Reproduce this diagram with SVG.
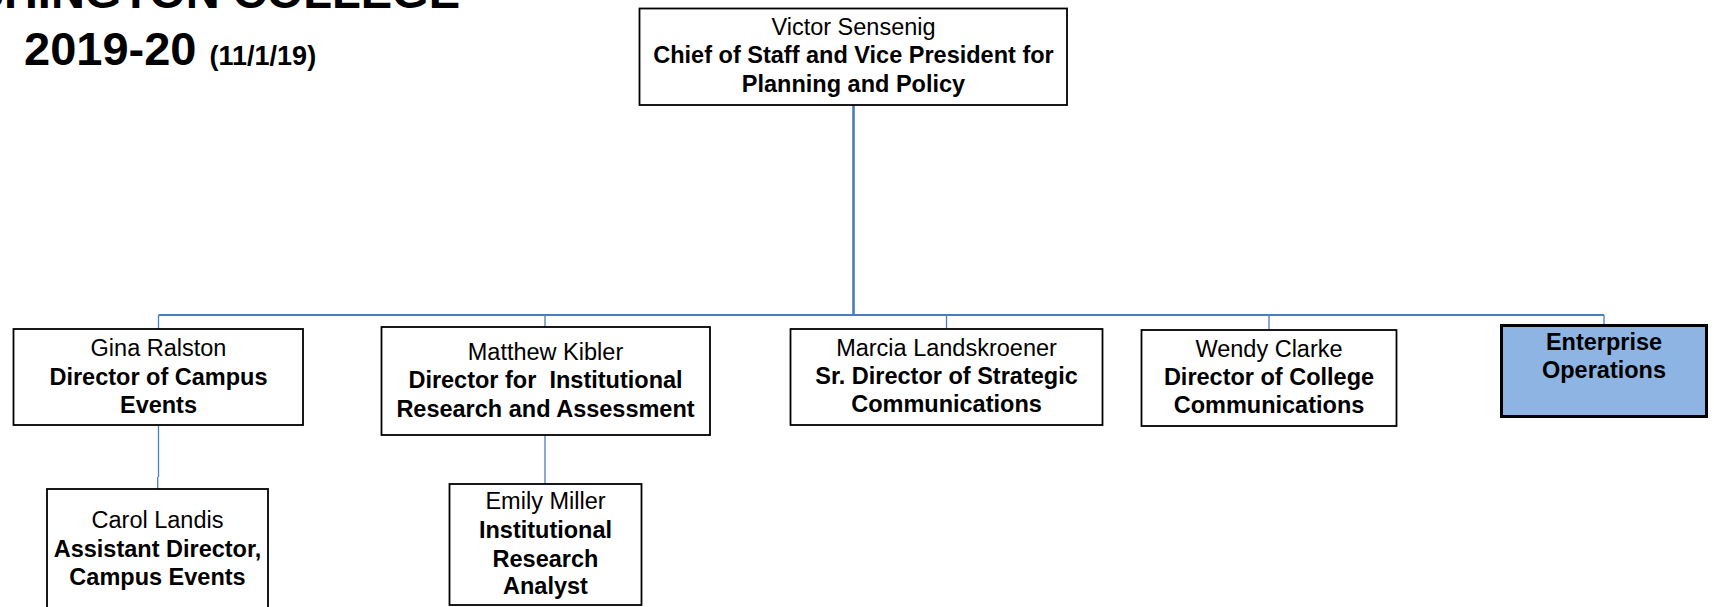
<svg xmlns="http://www.w3.org/2000/svg" width="1714" height="607" viewBox="0 0 1714 607">
<style>
.box{fill:#fff;stroke:#000;stroke-width:1.8}
.ent{fill:#8EB4E3;stroke:#000;stroke-width:3}
text{font-family:"Liberation Sans",Arial,sans-serif;fill:#000}
.t{font-size:23.5px;text-anchor:middle}
.b{font-weight:bold}
.title{font-weight:bold;font-size:47px}
.con{fill:none;stroke:#4A7EBB;stroke-width:1.3}
.main{stroke-width:2.6}
.bus{stroke-width:2}
</style>
<rect width="1714" height="607" fill="#fff"/>
<g id="title">
<text class="title" x="460" y="7.5" text-anchor="end">WASHINGTON COLLEGE</text>
<text class="title" x="24" y="65">2019-20 <tspan font-size="27px">(11/1/19)</tspan></text>
</g>
<g id="connectors">
<line class="con main" x1="853.5" y1="105" x2="853.5" y2="315"/>
<line class="con bus" x1="158.5" y1="315" x2="1604" y2="315"/>
<line class="con" x1="158.5" y1="315" x2="158.5" y2="329"/>
<line class="con" x1="545" y1="315" x2="545" y2="327"/>
<line class="con" x1="946.5" y1="315" x2="946.5" y2="329"/>
<line class="con" x1="1269" y1="315" x2="1269" y2="330"/>
<line class="con" x1="1604" y1="315" x2="1604" y2="325"/>
<path class="con" d="M158.5 425 V477 M157.7 477 V489"/>
<line class="con" x1="545" y1="435" x2="545" y2="484"/>
</g>
<g id="node-victor">
<rect class="box" x="639.5" y="8.5" width="427.5" height="96.5"/>
<text class="t" x="853.5" y="34.5">Victor Sensenig</text>
<text class="t b" x="853.5" y="63">Chief of Staff and Vice President for</text>
<text class="t b" x="853.5" y="91.5">Planning and Policy</text>
</g>
<g id="node-gina">
<rect class="box" x="13.5" y="329" width="289.5" height="96"/>
<text class="t" x="158.5" y="356">Gina Ralston</text>
<text class="t b" x="158.5" y="385">Director of Campus</text>
<text class="t b" x="158.5" y="413">Events</text>
</g>
<g id="node-matthew">
<rect class="box" x="381.5" y="327" width="328.5" height="108"/>
<text class="t" x="545.5" y="360">Matthew Kibler</text>
<text class="t b" x="545.5" y="388" style="white-space:pre">Director for  Institutional</text>
<text class="t b" x="545.5" y="417">Research and Assessment</text>
</g>
<g id="node-marcia">
<rect class="box" x="790.5" y="329" width="312" height="96"/>
<text class="t" x="946.5" y="356">Marcia Landskroener</text>
<text class="t b" x="946.5" y="384">Sr. Director of Strategic</text>
<text class="t b" x="946.5" y="412">Communications</text>
</g>
<g id="node-wendy">
<rect class="box" x="1141.5" y="330" width="255" height="96"/>
<text class="t" x="1269" y="357">Wendy Clarke</text>
<text class="t b" x="1269" y="385">Director of College</text>
<text class="t b" x="1269" y="413">Communications</text>
</g>
<g id="node-enterprise">
<rect class="ent" x="1501.5" y="325.5" width="205" height="91"/>
<text class="t b" x="1604" y="350">Enterprise</text>
<text class="t b" x="1604" y="378">Operations</text>
</g>
<g id="node-carol">
<rect class="box" x="47" y="489" width="221" height="130"/>
<text class="t" x="157.5" y="528">Carol Landis</text>
<text class="t b" x="157.5" y="557">Assistant Director,</text>
<text class="t b" x="157.5" y="585">Campus Events</text>
</g>
<g id="node-emily">
<rect class="box" x="449.5" y="484" width="192" height="121"/>
<text class="t" x="545.5" y="509">Emily Miller</text>
<text class="t b" x="545.5" y="538">Institutional</text>
<text class="t b" x="545.5" y="567">Research</text>
<text class="t b" x="545.5" y="594">Analyst</text>
</g>
</svg>
